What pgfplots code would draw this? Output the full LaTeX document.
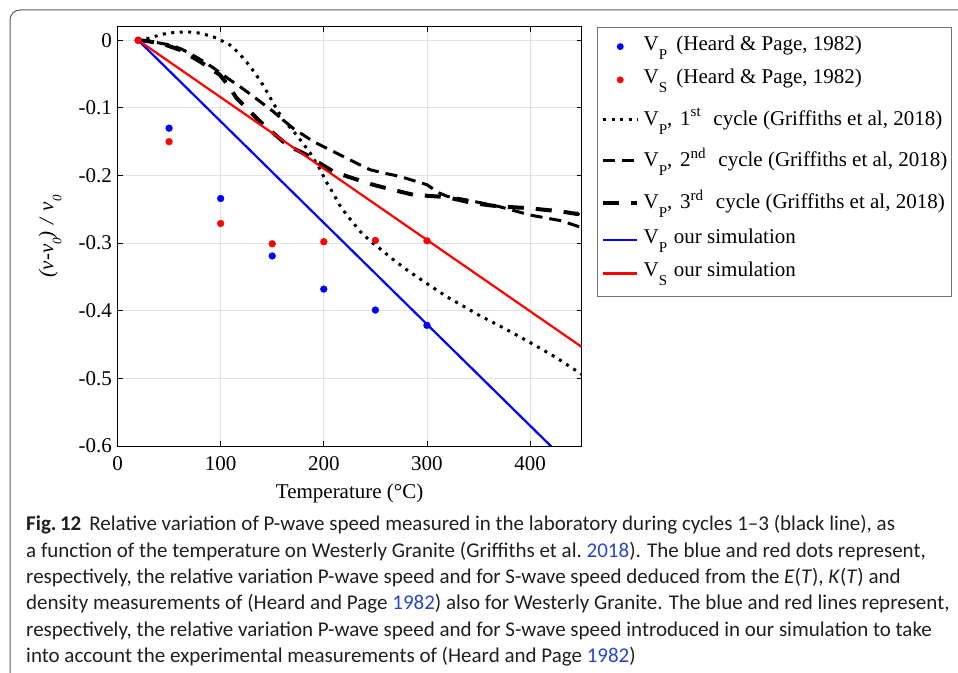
\documentclass[border=0pt]{standalone}
\usepackage{pgfplots}
\pgfplotsset{compat=1.18}
\usepackage{fontspec}
\setmainfont{Liberation Serif}
\newfontfamily\capfont[Ligatures=TeX]{Carlito}
\definecolor{linkblue}{RGB}{40,70,200}
\definecolor{gridgray}{RGB}{226,226,226}
\newcommand{\sub}[1]{\raisebox{-9pt}{\fontsize{15}{15}\selectfont #1}}
\newcommand{\supr}[1]{\raisebox{8.5pt}{\fontsize{15}{15}\selectfont #1}}
\newcommand{\ysub}[1]{\raisebox{-8pt}{\fontsize{13}{13}\selectfont #1}}
% struts: \rule[-depth]{0pt}{height+depth}
\newcommand{\stA}{\rule[-9pt]{0pt}{32pt}}
\newcommand{\stB}{\rule[-9pt]{0pt}{33.3pt}}
\newcommand{\stC}{\rule[-9pt]{0pt}{41.7pt}}
\newcommand{\stD}{\rule[-9pt]{0pt}{35pt}}
\newcommand{\stE}{\rule[-19.3pt]{0pt}{43.6pt}}
\pgfplotsset{
  dotleg/.style={legend image code/.code={\draw[##1, mark size=3pt] plot coordinates {(17.15pt,3.5pt)};}},
  lineleg/.style={legend image code/.code={\draw[##1] (0pt,#1) -- (34.3pt,#1);}},
}

\pgfplotstableread{
x y
20 0
50 -0.130
100 -0.234
150 -0.319
200 -0.368
250 -0.399
300 -0.4216
}\vpdata
\pgfplotstableread{
x y
20 0
50 -0.150
100 -0.271
150 -0.301
200 -0.298
250 -0.296
300 -0.2965
}\vsdata
\pgfplotstableread{
x y
20 0
28 0.002
36 0.0055
44 0.009
55 0.0115
67 0.0125
80 0.0105
93 0.005
100 0.0
109 -0.007
117 -0.018
125 -0.032
133 -0.048
141 -0.066
151 -0.0930
160.7 -0.118
173.6 -0.140
186.5 -0.166
196 -0.190
203 -0.211
209 -0.226
215 -0.243
222 -0.258
229 -0.271
236 -0.284
245 -0.297
255 -0.309
267 -0.324
280 -0.339
300 -0.360
320 -0.380
351 -0.407
375 -0.426
400 -0.447
425 -0.469
450 -0.494
}\cycA
\pgfplotstableread{
x y
20 0
28 -0.001
40 -0.004
51 -0.007
62 -0.013
73 -0.022
83 -0.031
93 -0.041
109 -0.0586
120 -0.070
131.6 -0.083
151 -0.1055
170 -0.130
180 -0.140
190 -0.150
209 -0.1645
232 -0.182
245 -0.1916
260 -0.197
274 -0.2015
300 -0.2137
312 -0.226
320 -0.231
338 -0.236
370 -0.246
400 -0.2585
430 -0.267
450 -0.277
}\cycB
\pgfplotstableread{
x y
20 0
28 -0.001
45 -0.006
60.6 -0.0143
80 -0.0316
99.3 -0.0513
107 -0.066
115.5 -0.0857
127 -0.103
138 -0.120
150 -0.136
160.7 -0.150
172 -0.161
183.3 -0.1695
196 -0.182
209 -0.194
222 -0.201
232 -0.206
246 -0.213
261 -0.219
286.6 -0.2285
300 -0.230
319 -0.232
345 -0.241
371 -0.246
396 -0.248
429 -0.253
446 -0.257
450 -0.251
}\cycC

\begin{document}
\begin{tikzpicture}[x=1pt,y=1pt]
\path[use as bounding box] (0,0) rectangle (958,672);
\draw[black!65, line width=1pt, rounded corners=10pt] (10,-30) -- (10,662) -- (990,662);

\begin{axis}[
  at={(117.5pt,226pt)}, anchor=south west,
  scale only axis, width=464.2pt, height=419.3pt,
  xmin=0, xmax=450, ymin=-0.6, ymax=0.02,
  xtick={0,100,200,300,400},
  ytick={-0.6,-0.5,-0.4,-0.3,-0.2,-0.1,0},
  yticklabels={-0.6,-0.5,-0.4,-0.3,-0.2,-0.1,0},
  font=\fontsize{21}{25}\selectfont,
  tick label style={font=\fontsize{21}{25}\selectfont},
  /pgf/number format/assume math mode=true,
  xticklabel style={yshift=-7pt},
  yticklabel style={xshift=-2pt},
  tick align=inside, tick pos=both,
  major tick length=5pt,
  axis line style={line width=0.9pt},
  every tick/.style={black, line width=0.9pt},
  grid=major,
  major grid style={gridgray, line width=0.9pt},
  xlabel={Temperature (\textdegree C)},
  xlabel style={at={(axis description cs:0.5,0)}, anchor=base, yshift=-53pt},
  ylabel={\itshape (v-v\ysub{0})\hspace{7pt}/\hspace{7pt}v\ysub{0}},
  ylabel style={at={(axis description cs:-0.1379,0.5)}, anchor=base, rotate=0},
  legend style={at={(1.033,1.0)}, anchor=north west,
    draw=black!55, line width=0.8pt, fill=white,
    inner xsep=3.7pt, inner ysep=0pt,
    row sep=0pt, column sep=4.3pt,
    nodes={inner sep=0pt, text depth={}, font=\fontsize{21}{25}\selectfont},
    cells={anchor=base west}},
]
\addplot[only marks, mark=*, mark size=3.4pt, color=blue, dotleg]
  table {\vpdata};
\addlegendentry{\stA V\sub{P}\hspace{4pt} (Heard \& Page, 1982)}
\addplot[only marks, mark=*, mark size=3.4pt, color=red, dotleg]
  table {\vsdata};
\addlegendentry{\stB V\sub{S}\hspace{4pt} (Heard \& Page, 1982)}
\addplot[black, line width=3pt, dash pattern=on 3pt off 5.5pt, lineleg=6pt]
  table {\cycA};
\addlegendentry{\stC V\sub{P},\hspace{2.5pt} 1\supr{st}\hspace{7.5pt} cycle (Griffiths et al, 2018)}
\addplot[black, line width=3pt, dash pattern=on 12pt off 7pt, lineleg=6pt]
  table {\cycB};
\addlegendentry{\stC V\sub{P},\hspace{2.5pt} 2\supr{nd}\hspace{7.5pt} cycle (Griffiths et al, 2018)}
\addplot[black, line width=4pt, dash pattern=on 16pt off 12pt, lineleg=6pt]
  table {\cycC};
\addlegendentry{\stC V\sub{P},\hspace{2.5pt} 3\supr{rd}\hspace{7.5pt} cycle (Griffiths et al, 2018)}
\addplot[blue, line width=2.2pt, lineleg=3.5pt]
  coordinates {(20,0) (450,-0.645)};
\addlegendentry{\stD V\sub{P}\hspace{1.5pt} our simulation}
\addplot[red, line width=2.2pt, lineleg=3.5pt]
  coordinates {(20,0) (450,-0.4535)};
\addlegendentry{\stE V\sub{S}\hspace{1.5pt} our simulation}
\end{axis}

\node[anchor=base west, align=left, inner sep=0pt, color=black!88,
  font=\capfont\fontsize{21}{26.4}\selectfont] at (26,9.3)
{{\bfseries Fig.\,12}\hspace{8pt}Relative variation of P-wave speed measured in the laboratory during cycles 1–3 (black line), as\\
a function of the temperature on Westerly Granite (Griffiths et al.\ \textcolor{linkblue}{2018}). The blue and red dots represent,\\
respectively, the relative variation P-wave speed and for S-wave speed deduced from the \textit{E}(\textit{T}), \textit{K}(\textit{T}) and\\
density measurements of (Heard and Page \textcolor{linkblue}{1982}) also for Westerly Granite. The blue and red lines represent,\\
respectively, the relative variation P-wave speed and for S-wave speed introduced in our simulation to take\\
into account the experimental measurements of (Heard and Page \textcolor{linkblue}{1982})};
\end{tikzpicture}
\end{document}
